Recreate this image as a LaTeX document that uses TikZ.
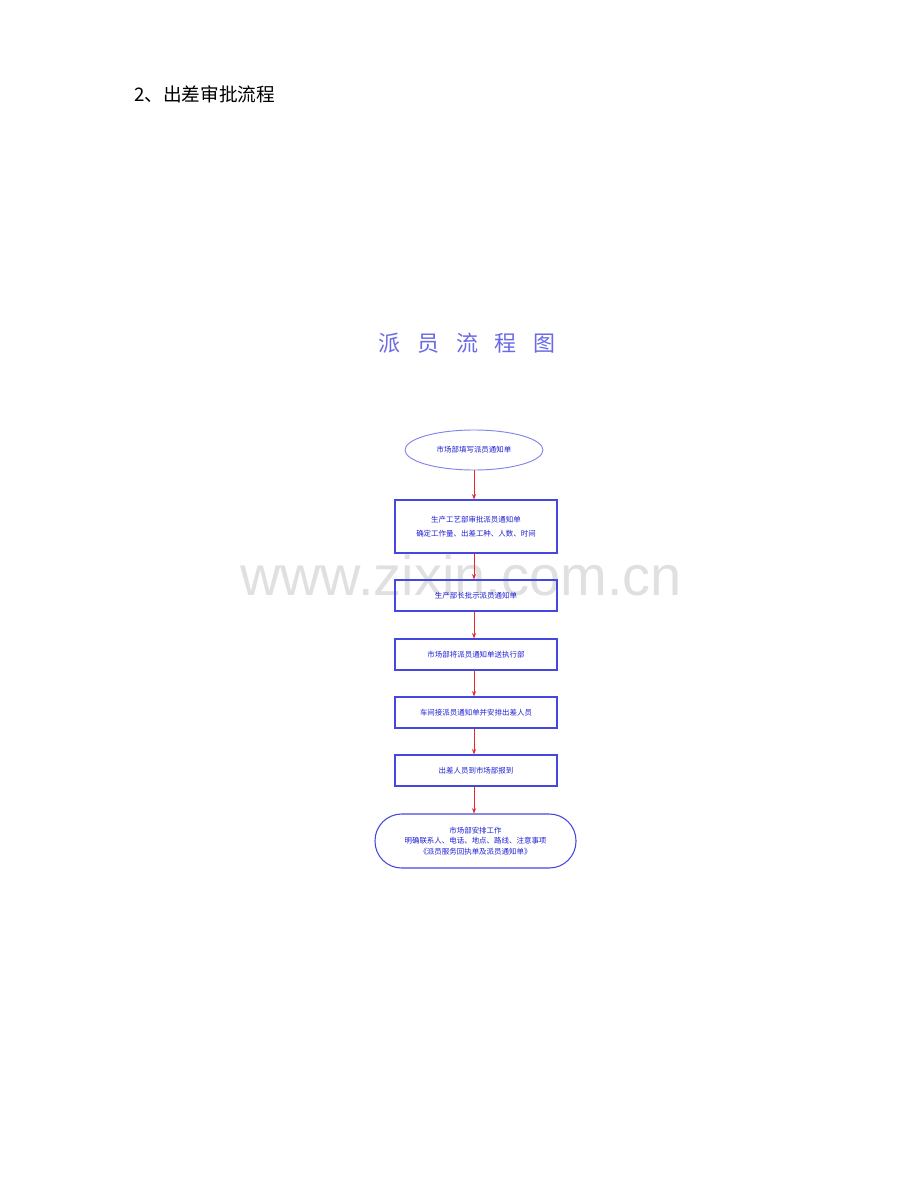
\documentclass[tikz,border=0pt]{standalone}
\usepackage{fontspec}
\usetikzlibrary{shapes.geometric,arrows.meta}
\newfontfamily\cjk{Noto Sans CJK SC}
\newfontfamily\wmfont{Liberation Sans}
\definecolor{boxblue}{RGB}{70,70,225}
\definecolor{ellblue}{RGB}{130,130,235}
\definecolor{txtblue}{RGB}{30,30,210}
\definecolor{titleblue}{RGB}{105,105,230}
\definecolor{wmgray}{RGB}{224,224,224}
\definecolor{arrred}{RGB}{230,40,40}
\tikzset{
  stepbox/.style={draw=boxblue, line width=0.9pt, minimum width=121.5pt, minimum height=23.25pt, inner sep=1pt, font=\cjk\fontsize{5.6}{9}\selectfont, text=txtblue, align=center},
  startell/.style={ellipse, draw=ellblue, line width=0.7pt, minimum width=103.5pt, minimum height=30pt, inner sep=0pt, font=\cjk\fontsize{5.6}{9}\selectfont, text=txtblue},
  endstad/.style={draw=boxblue, line width=0.8pt, rounded corners=20pt, minimum width=150.75pt, minimum height=40.5pt, inner sep=1pt, font=\cjk\fontsize{5.6}{8}\selectfont, text=txtblue, align=center},
  flow/.style={draw=arrred, line width=0.5pt, -{Stealth[length=4pt,width=3pt]}}
}
\begin{document}
\begin{tikzpicture}[x=0.75pt,y=-0.75pt]
\useasboundingbox (0,0) rectangle (920,1192);
% watermark (baseline at y=595)
\node[anchor=base, font=\wmfont\fontsize{42}{42}\selectfont, text=wmgray, inner sep=0pt] (wm) at (461,595) {www.zixin.com.cn};
% header
\node[anchor=west, font=\cjk\fontsize{14}{16}\selectfont, inner sep=0pt] (hdr) at (134,94) {2、出差审批流程};
% title
\node[font=\cjk\fontsize{16.5}{18}\selectfont, text=titleblue, inner sep=0pt] (ttl) at (467,343) {派\hspace{12.5pt}员\hspace{12.5pt}流\hspace{12.5pt}程\hspace{12.5pt}图};
% flow
\node[startell] (e1) at (474,450) {市场部填写派员通知单};
\node[stepbox, minimum height=39.75pt] (b1) at (476,526.5) {生产工艺部审批派员通知单\\[1pt]确定工作量、出差工种、人数、时间};
\node[stepbox] (b2) at (476,595.5) {生产部长批示派员通知单};
\node[stepbox] (b3) at (476,654.5) {市场部将派员通知单送执行部};
\node[stepbox] (b4) at (476,712.5) {车间接派员通知单并安排出差人员};
\node[stepbox] (b5) at (476,770.5) {出差人员到市场部报到};
\node[endstad] (f) at (475.5,841) {市场部安排工作\\明确联系人、电话、地点、路线、注意事项\\《派员服务回执单及派员通知单》};
\draw[flow] (e1.south) -- (e1.south |- b1.north);
\draw[flow] (e1.south |- b1.south) -- (e1.south |- b2.north);
\draw[flow] (e1.south |- b2.south) -- (e1.south |- b3.north);
\draw[flow] (e1.south |- b3.south) -- (e1.south |- b4.north);
\draw[flow] (e1.south |- b4.south) -- (e1.south |- b5.north);
\draw[flow] (e1.south |- b5.south) -- (e1.south |- f.north);
\end{tikzpicture}
\end{document}
